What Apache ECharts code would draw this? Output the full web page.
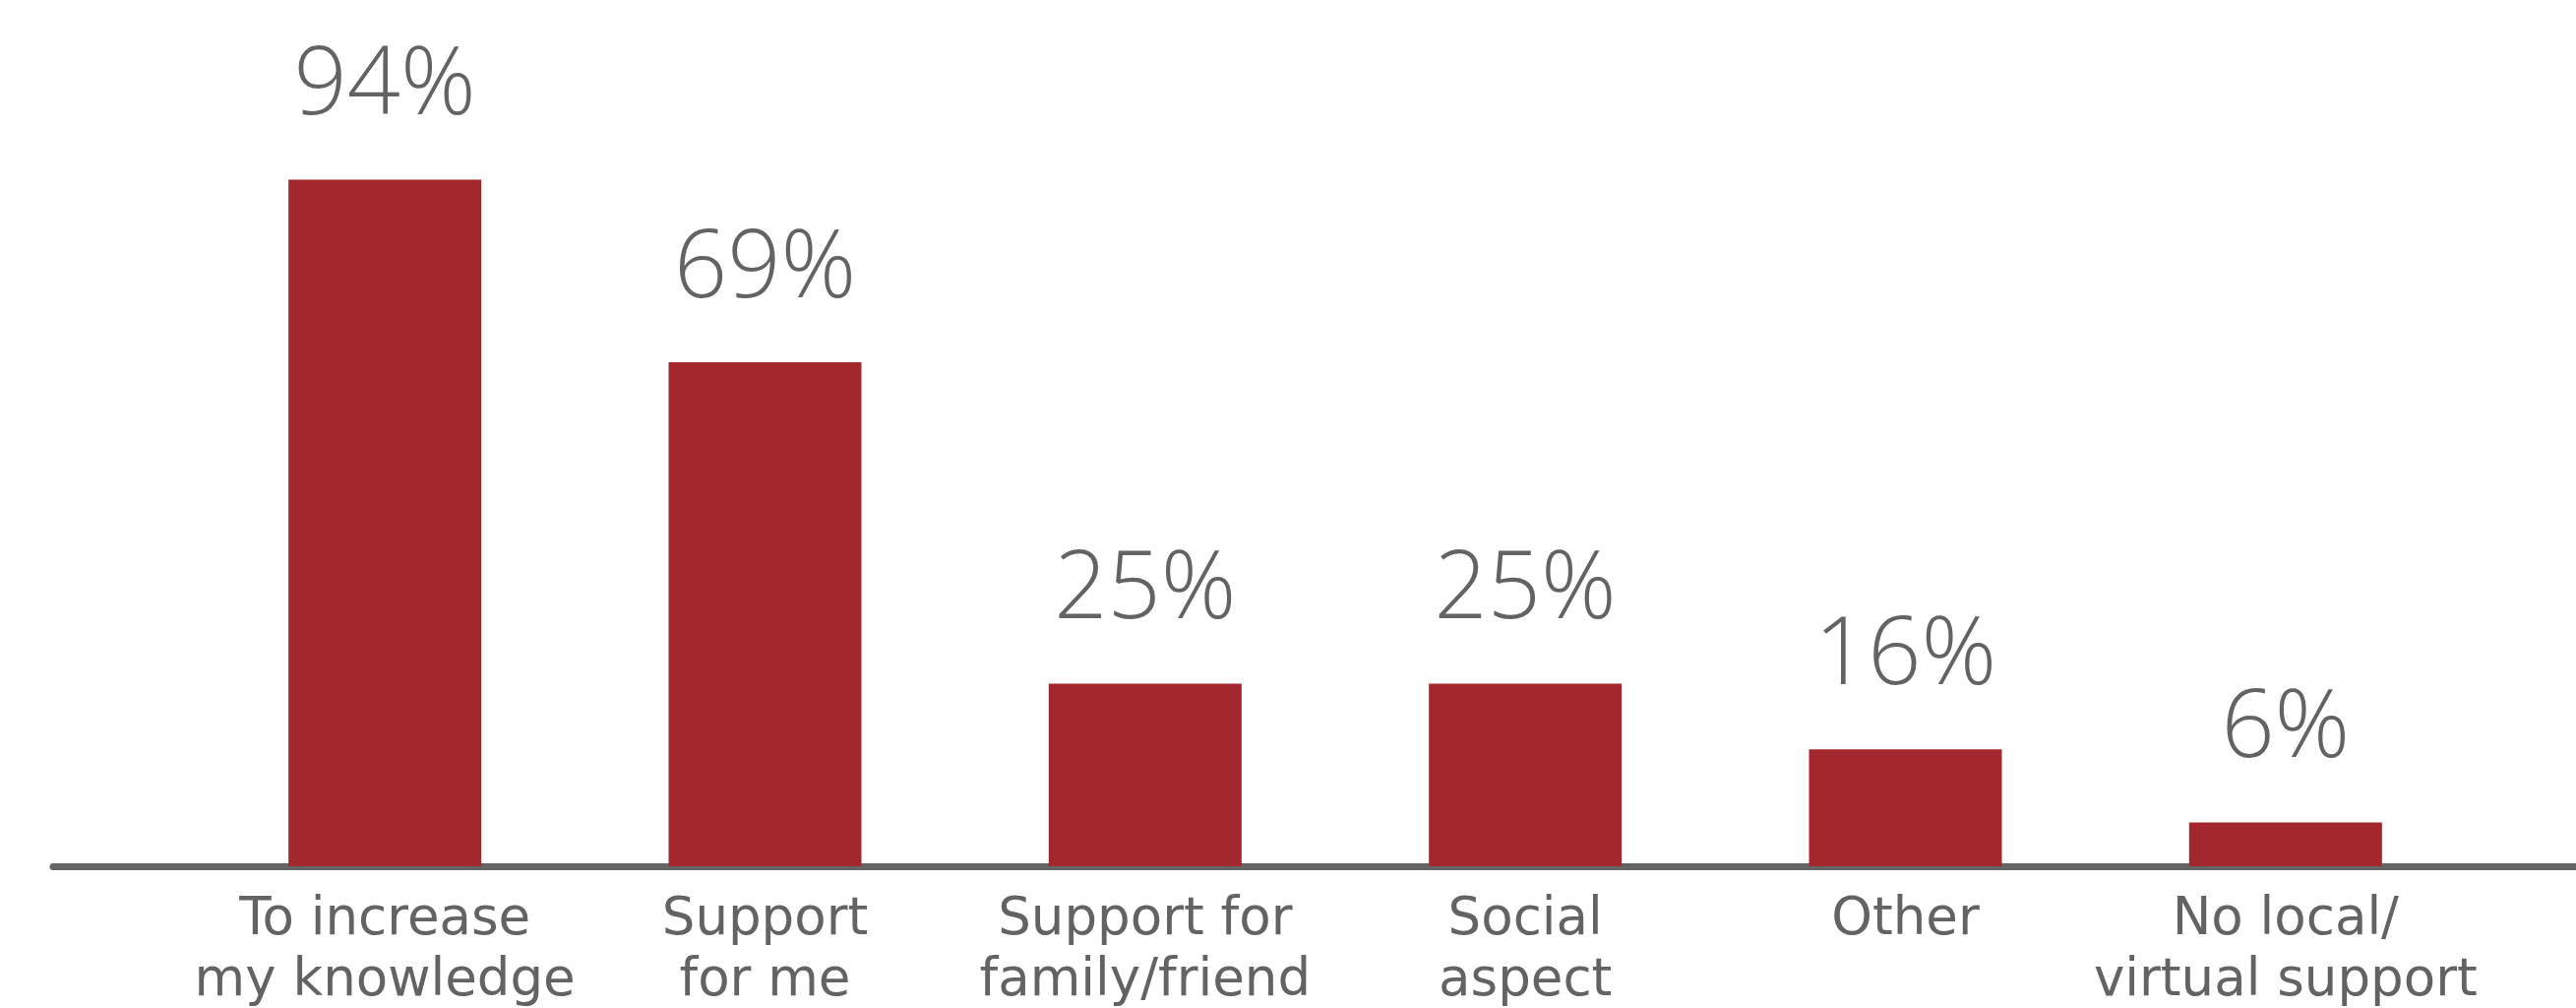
<!DOCTYPE html>
<html>
<head>
<meta charset="utf-8">
<script src="https://cdn.jsdelivr.net/npm/echarts@6/dist/echarts.min.js"></script>
<style>
    html, body { margin: 0; padding: 0; background: #ffffff; }
    #chart { width: 2618px; height: 1024px; }
</style>
</head>
<body>
<div id="chart"></div>
<script>
// reasons for joining
var categories = [
    "To increase\nmy knowledge",
    "Support\nfor me",
    "Support for\nfamily/friend",
    "Social\naspect",
    "Other",
    "No local/\nvirtual support",
];
var percents = [94, 69, 25, 25, 16, 6];

var barColor = "#a2282e";
var textColor = "#636363";

var myChart = echarts.init(document.getElementById("chart"));
var option = {
    backgroundColor: "#ffffff",
    animation: false,
    grid: [
        { left: 198, right: 102, top: 138, bottom: 144, outerBoundsMode: "none" },
        // only for the long base line
        { left: 54, right: 0, top: 138, bottom: 144, outerBoundsMode: "none" },
    ],
    xAxis: [
        {
            type: "category",
            gridIndex: 0,
            data: categories,
            axisLine: { show: false },
            axisTick: { show: false },
            axisLabel: {
                color: textColor,
                fontFamily: "DejaVu Sans",
                fontSize: 53,
                lineHeight: 62,
                margin: 24,
                interval: 0,
            },
        },
        {
            type: "category",
            gridIndex: 1,
            data: [""],
            axisLine: {
                show: true,
                lineStyle: { color: "#646464", width: 7 },
            },
            axisTick: { show: false },
            axisLabel: { show: false },
        },
    ],
    yAxis: [
        { type: "value", gridIndex: 0, min: 0, max: 100, show: false },
        { type: "value", gridIndex: 1, min: 0, max: 100, show: false },
    ],
    series: [
        {
            type: "bar",
            xAxisIndex: 0,
            yAxisIndex: 0,
            data: percents,
            barWidth: 196,
            itemStyle: { color: barColor },
            label: {
                show: true,
                position: "top",
                distance: 46,
                formatter: "{c}%",
                color: textColor,
                fontFamily: "Open Sans",
                fontWeight: 300,
                fontSize: 95,
            },
        },
    ],
};
myChart.setOption(option);
</script>
</body>
</html>
